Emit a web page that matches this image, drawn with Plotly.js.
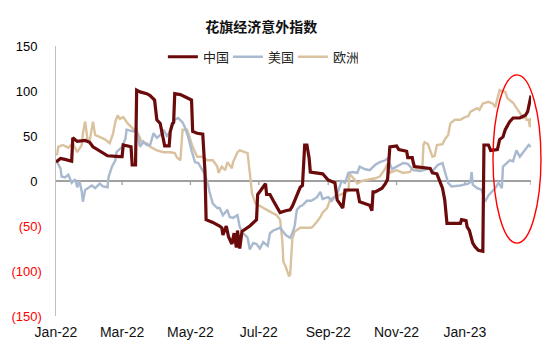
<!DOCTYPE html>
<html>
<head>
<meta charset="utf-8">
<script src="https://cdn.plot.ly/plotly-3.0.1.min.js"></script>
<style>
html,body{margin:0;padding:0;background:#fff;}
#chart{width:550px;height:351px;}
</style>
</head>
<body>
<div id="chart"></div>
<script>
// ---- data ----
const chinaDates = ["2022-01-01","2022-01-05","2022-01-09","2022-01-14","2022-01-15","2022-01-16","2022-01-20","2022-01-27","2022-01-31","2022-02-03","2022-02-09","2022-02-16","2022-02-27","2022-03-01","2022-03-02","2022-03-09","2022-03-10","2022-03-13","2022-03-14","2022-03-17","2022-03-23","2022-03-26","2022-03-30","2022-04-01","2022-04-04","2022-04-07","2022-04-08","2022-04-12","2022-04-13","2022-04-15","2022-04-16","2022-04-17","2022-04-22","2022-04-27","2022-05-01","2022-05-02","2022-05-03","2022-05-07","2022-05-12","2022-05-14","2022-05-15","2022-05-21","2022-05-27","2022-05-29","2022-05-30","2022-06-02","2022-06-04","2022-06-07","2022-06-09","2022-06-11","2022-06-12","2022-06-14","2022-06-16","2022-06-23","2022-06-29","2022-06-30","2022-07-03","2022-07-07","2022-07-08","2022-07-11","2022-07-14","2022-07-17","2022-07-20","2022-07-25","2022-07-29","2022-07-31","2022-08-04","2022-08-07","2022-08-09","2022-08-10","2022-08-11","2022-08-13","2022-08-15","2022-08-16","2022-08-27","2022-09-01","2022-09-07","2022-09-09","2022-09-14","2022-09-16","2022-09-27","2022-09-29","2022-10-08","2022-10-10","2022-10-11","2022-10-13","2022-10-19","2022-10-22","2022-10-24","2022-10-26","2022-11-01","2022-11-03","2022-11-10","2022-11-11","2022-11-15","2022-11-16","2022-11-17","2022-12-01","2022-12-03","2022-12-07","2022-12-10","2022-12-12","2022-12-14","2022-12-16","2022-12-28","2022-12-29","2023-01-02","2023-01-03","2023-01-05","2023-01-08","2023-01-10","2023-01-13","2023-01-17","2023-01-18","2023-01-22","2023-01-24","2023-01-30","2023-02-01","2023-02-04","2023-02-06","2023-02-10","2023-02-13","2023-02-19","2023-02-24","2023-02-26","2023-02-28","2023-03-01"];
const chinaValues = [21,25,24,23,22,48,44,45,43,38,33,28,27,27,40,38,18,18,101,99,97,95,90,68,64,45,39,39,55,64,65,97,96,93,91,90,55,53,52,10,-43,-46,-50,-52,-60,-50,-62,-70,-58,-74,-55,-75,-56,-50,-43,-15,-10,-3,-15,-15,-22,-29,-35,-33,-32,-28,-17,-7,-5,30,40,40,25,10,8,1,-2,-21,-30,-10,-10,-23,-27,-33,-12,-12,-8,-3,2,38,39,35,33,26,26,20,16,14,9,8,-2,-8,-21,-47,-47,-43,-44,-51,-55,-69,-73,-77,-78,40,40,34,35,46,49,57,66,70,70,73,77,92,95];

const usDates = ["2022-01-01","2022-01-02","2022-01-05","2022-01-06","2022-01-09","2022-01-12","2022-01-15","2022-01-18","2022-01-20","2022-01-22","2022-01-24","2022-01-25","2022-01-27","2022-01-30","2022-02-02","2022-02-05","2022-02-09","2022-02-12","2022-02-16","2022-02-17","2022-02-20","2022-02-23","2022-02-24","2022-03-01","2022-03-04","2022-03-05","2022-03-11","2022-03-14","2022-03-17","2022-03-20","2022-03-23","2022-03-26","2022-03-29","2022-04-01","2022-04-04","2022-04-07","2022-04-10","2022-04-13","2022-04-15","2022-04-17","2022-04-20","2022-04-24","2022-04-26","2022-04-29","2022-05-02","2022-05-05","2022-05-08","2022-05-11","2022-05-14","2022-05-17","2022-05-18","2022-05-21","2022-05-25","2022-05-27","2022-05-30","2022-06-03","2022-06-05","2022-06-08","2022-06-12","2022-06-14","2022-06-17","2022-06-21","2022-06-23","2022-06-26","2022-06-29","2022-07-02","2022-07-05","2022-07-09","2022-07-11","2022-07-14","2022-07-20","2022-07-25","2022-07-29","2022-07-31","2022-08-02","2022-08-04","2022-08-07","2022-08-09","2022-08-13","2022-08-17","2022-08-22","2022-08-25","2022-08-27","2022-09-01","2022-09-04","2022-09-09","2022-09-13","2022-09-16","2022-09-19","2022-09-23","2022-09-27","2022-09-29","2022-10-04","2022-10-08","2022-10-13","2022-10-17","2022-10-22","2022-10-24","2022-10-28","2022-11-01","2022-11-07","2022-11-11","2022-11-16","2022-11-22","2022-12-01","2022-12-03","2022-12-08","2022-12-12","2022-12-14","2022-12-17","2022-12-20","2022-12-28","2023-01-04","2023-01-06","2023-01-07","2023-01-08","2023-01-12","2023-01-16","2023-01-19","2023-01-22","2023-01-25","2023-01-28","2023-01-31","2023-02-03","2023-02-04","2023-02-07","2023-02-10","2023-02-13","2023-02-16","2023-02-19","2023-02-22","2023-02-25","2023-02-27","2023-03-01"];
const usValues = [22,21,14,5,4,7,-2,2,-7,0,-12,-23,-10,-7,-5,-8,-3,-6,-7,5,16,23,32,38,47,57,55,57,38,44,40,40,53,48,51,57,50,55,62,68,70,65,60,49,34,21,20,14,7,-5,-12,-25,-30,-30,-38,-32,-40,-41,-38,-51,-58,-63,-76,-69,-70,-75,-68,-72,-58,-55,-52,-60,-63,-58,-50,-32,-28,-27,-22,-22,-18,-12,-20,-18,-22,-14,0,-2,9,10,9,16,13,12,18,21,23,25,13,16,20,19,12,11,14,11,18,20,10,-2,-6,-5,-3,-1,10,-4,-8,-10,-23,-16,-12,-8,-2,-8,16,20,23,22,34,27,32,37,40,38];

const euDates = ["2022-01-01","2022-01-02","2022-01-03","2022-01-07","2022-01-12","2022-01-16","2022-01-20","2022-01-24","2022-01-25","2022-01-27","2022-01-29","2022-01-31","2022-02-03","2022-02-05","2022-02-09","2022-02-14","2022-02-18","2022-02-21","2022-02-23","2022-02-25","2022-02-27","2022-03-02","2022-03-06","2022-03-10","2022-03-15","2022-03-19","2022-03-23","2022-03-26","2022-04-01","2022-04-07","2022-04-13","2022-04-17","2022-04-19","2022-04-22","2022-04-23","2022-04-24","2022-04-28","2022-05-01","2022-05-03","2022-05-07","2022-05-12","2022-05-16","2022-05-21","2022-05-25","2022-05-26","2022-05-29","2022-06-01","2022-06-03","2022-06-07","2022-06-08","2022-06-12","2022-06-14","2022-06-19","2022-06-21","2022-06-23","2022-06-25","2022-06-28","2022-07-02","2022-07-07","2022-07-11","2022-07-17","2022-07-20","2022-07-22","2022-07-23","2022-07-25","2022-07-28","2022-07-29","2022-07-31","2022-08-02","2022-08-07","2022-08-16","2022-08-18","2022-08-22","2022-08-25","2022-08-27","2022-08-31","2022-09-03","2022-09-11","2022-09-14","2022-09-19","2022-09-20","2022-09-25","2022-09-27","2022-10-01","2022-10-06","2022-10-13","2022-10-17","2022-10-22","2022-10-24","2022-10-26","2022-11-01","2022-11-07","2022-11-13","2022-11-16","2022-11-20","2022-11-24","2022-11-25","2022-11-26","2022-11-29","2022-12-03","2022-12-05","2022-12-07","2022-12-12","2022-12-14","2022-12-17","2022-12-19","2022-12-23","2022-12-28","2023-01-01","2023-01-04","2023-01-06","2023-01-12","2023-01-14","2023-01-17","2023-01-22","2023-01-26","2023-01-28","2023-01-31","2023-02-01","2023-02-06","2023-02-08","2023-02-13","2023-02-16","2023-02-19","2023-02-22","2023-02-24","2023-02-25","2023-02-27","2023-02-28","2023-03-01"];
const euValues = [30,29,38,40,37,42,32,40,53,66,47,44,66,51,49,46,42,53,66,73,69,71,64,59,53,42,42,38,34,32,32,31,26,23,47,57,57,44,38,27,27,23,23,16,9,16,12,21,14,21,32,34,32,31,9,-14,-25,-28,-31,-34,-38,-43,-66,-90,-95,-106,-104,-64,-56,-52,-52,-51,-45,-40,-35,-30,-20,-16,-14,-11,8,1,-3,0,1,3,5,14,20,9,12,9,10,17,12,13,40,43,41,27,28,40,41,46,51,64,68,68,71,72,77,81,79,86,88,86,82,96,101,99,92,87,81,75,70,72,68,68,60,70];

const seriesNames = ["中国","美国","欧洲"];
const tickDates = ["2022-01-01","2022-03-01","2022-05-01","2022-07-01","2022-09-01","2022-11-01","2023-01-01","2023-03-01"];
const tickLabels = ["Jan-22","Mar-22","May-22","Jul-22","Sep-22","Nov-22","Jan-23",""];
const yTicks = [-150,-100,-50,0,50,100,150];
const yTickLabels = ["(150)","(100)","(50)","0\u2004","50\u2004","100\u2004","150\u2004"];

const colors = {china:"#6B0A0A", us:"#A9B9CF", eu:"#DBC29E"};

const yText = yTicks.map((v,i)=> v<0 ? '<span style="color:#FF0000">'+yTickLabels[i]+'</span>' : yTickLabels[i]);

const xr = ["2022-01-01","2023-03-01"];

const traces = [
  {x: chinaDates, y: chinaValues, name: seriesNames[0], type:"scatter", mode:"lines",
   line:{color:colors.china, width:3.2}},
  {x: usDates, y: usValues, name: seriesNames[1], type:"scatter", mode:"lines",
   line:{color:colors.us, width:2.4}},
  {x: euDates, y: euValues, name: seriesNames[2], type:"scatter", mode:"lines",
   line:{color:colors.eu, width:2.4}}
];
// keep China drawn on top
const drawOrder = [traces[2], traces[1], traces[0]];

// zero line and small tick marks hanging below it at each tick date
const zeroLine = {type:"line", xref:"paper", yref:"y", x0:0, x1:1, y0:0, y1:0, layer:"below",
  line:{color:"#A0A0A0", width:1.3}};
const zeroTicks = tickDates.slice(1).map(d => ({
  type:"line", xref:"x", yref:"y", x0:d, x1:d, y0:0, y1:-4.5, layer:"below",
  line:{color:"#A0A0A0", width:1.3}
}));

const layout = {
  width:550, height:351,
  margin:{l:56, r:19, t:46, b:35, pad:0},
  paper_bgcolor:"#fff", plot_bgcolor:"#fff",
  font:{family:"Liberation Sans, Arial, sans-serif", size:13, color:"#000"},
  title:{text:"<b>花旗经济意外指数</b>", font:{family:"Noto Sans CJK SC, sans-serif", size:14, color:"#111"},
         x:0.475, xref:"container", xanchor:"center", y:0.922, yref:"container", yanchor:"middle"},
  showlegend:true,
  legend:{orientation:"h", x:0.225, xanchor:"left", y:0.96, yanchor:"middle",
          font:{family:"Noto Sans CJK SC, sans-serif", size:13, color:"#222"},
          bgcolor:"rgba(0,0,0,0)", itemwidth:30, traceorder:"reversed",
          entrywidth:20, entrywidthmode:"pixels"},
  xaxis:{type:"date", range:xr, tickvals:tickDates, ticktext:tickLabels,
         showgrid:false, zeroline:false, showline:false, ticks:"",
         tickfont:{family:"Liberation Sans, Arial, sans-serif", size:14, color:"#111"},
         ticklabelstandoff:6},
  yaxis:{range:[-150,150], tickvals:yTicks, ticktext:yText, showgrid:false,
         zeroline:true, zerolinecolor:"#A0A0A0", zerolinewidth:1.3,
         showline:true, linecolor:"#BFBFBF", linewidth:1.5, ticks:"",
         tickfont:{family:"Liberation Sans, Arial, sans-serif", size:13, color:"#000"},
         ticklabelstandoff:10},
  shapes:[zeroLine].concat(zeroTicks).concat([{type:"circle", xref:"paper", yref:"paper", x0:0.92, x1:1.021, y0:0.27, y1:0.893,
           line:{color:"#FF0000", width:1.4}, fillcolor:"rgba(0,0,0,0)"}])
};

Plotly.newPlot("chart", drawOrder, layout, {staticPlot:true, displayModeBar:false});
</script>
</body>
</html>
